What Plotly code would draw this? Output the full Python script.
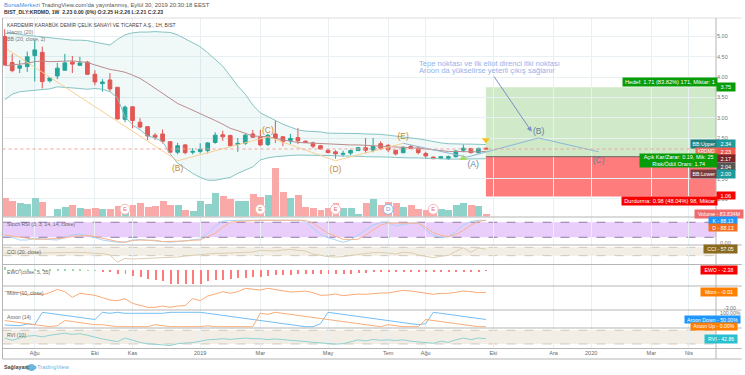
import plotly.graph_objects as go

W, H = 745, 375
FONT = "Liberation Sans"

opens = [5.00,4.36,4.22,4.26,4.53,4.61,3.91,4.03,4.17,4.37,4.29,4.37,4.07,3.84,3.93,3.75,2.96,3.27,2.89,2.78,2.57,2.60,2.41,2.15,2.33,2.15,2.17,2.19,2.39,2.58,2.56,2.34,2.37,
         2.60,2.52,2.34,2.60,2.53,2.44,2.51,2.42,2.38,2.31,2.20,2.16,2.10,2.13,2.19,2.26,2.20,2.36,2.32,2.20,2.14,2.29,2.25,2.12,2.03,2.00,2.00,2.04,2.20,2.24,2.14,2.25]
highs = [5.18,4.57,4.42,4.63,4.91,4.75,3.99,4.35,4.57,4.52,4.50,4.40,4.17,3.95,4.10,3.75,3.30,3.27,2.99,2.78,2.62,2.71,2.41,2.38,2.35,2.25,2.37,2.40,2.64,2.68,2.58,2.50,2.60,
         2.70,2.70,2.60,2.94,2.55,2.60,2.75,2.44,2.41,2.33,2.22,2.20,2.19,2.22,2.28,2.50,2.50,2.42,2.35,2.20,2.30,2.33,2.30,2.16,2.04,2.05,2.07,2.20,2.34,2.26,2.27,2.26]
lows = [4.30,4.12,4.10,4.13,3.89,3.72,3.87,3.95,4.16,4.10,4.28,4.05,3.80,3.64,3.64,2.96,2.89,2.74,2.74,2.45,2.45,2.37,2.13,2.10,2.10,2.10,2.12,2.12,2.36,2.43,2.28,2.16,2.33,
        2.50,2.30,2.30,2.38,2.30,2.35,2.35,2.38,2.25,2.22,2.13,1.99,2.04,2.08,2.18,2.13,2.15,2.20,2.15,2.07,2.12,2.23,2.10,1.99,1.98,1.98,1.96,2.02,2.15,2.12,2.12,2.21]
closes = [4.30,4.16,4.28,4.50,4.67,3.89,3.98,4.22,4.35,4.32,4.35,4.07,3.88,3.88,3.71,2.97,3.26,2.93,2.77,2.55,2.52,2.42,2.15,2.31,2.14,2.17,2.22,2.38,2.57,2.53,2.31,2.37,2.57,
          2.52,2.33,2.57,2.49,2.41,2.49,2.43,2.39,2.30,2.23,2.14,2.11,2.12,2.19,2.26,2.20,2.29,2.25,2.21,2.11,2.27,2.24,2.14,2.06,1.99,2.04,2.04,2.18,2.25,2.14,2.24,2.23]
bb_upper = [5.08,5.08,5.05,5.03,5.01,4.98,4.96,4.95,4.93,4.91,4.91,4.90,4.86,4.82,4.79,4.93,5.04,5.09,5.11,5.11,5.12,5.11,5.10,5.04,4.94,4.86,4.75,4.60,4.44,4.27,4.03,3.78,3.58,
            3.31,3.12,3.02,2.94,2.84,2.77,2.70,2.67,2.66,2.65,2.62,2.62,2.62,2.61,2.61,2.60,2.60,2.59,2.57,2.55,2.52,2.50,2.48,2.45,2.41,2.38,2.36,2.35,2.35,2.35,2.35,2.34]
bb_lower = [3.44,3.58,3.64,3.66,3.68,3.70,3.71,3.76,3.75,3.74,3.72,3.70,3.72,3.70,3.64,3.49,3.02,2.82,2.70,2.55,2.50,2.41,2.11,1.88,1.75,1.63,1.53,1.46,1.46,1.49,1.53,1.63,1.71,
            1.79,1.96,2.01,2.04,2.06,2.07,2.08,2.08,2.08,2.08,2.07,2.06,2.06,2.06,2.05,2.04,2.04,2.03,2.03,2.02,2.01,2.01,2.01,2.00,2.00,1.98,1.98,1.98,1.98,1.98,1.98,1.99]
bb_basis = [4.28,4.30,4.32,4.34,4.38,4.40,4.38,4.39,4.40,4.40,4.38,4.36,4.30,4.24,4.19,4.16,4.12,4.05,3.97,3.85,3.72,3.60,3.48,3.35,3.27,3.19,3.11,3.02,2.93,2.84,2.74,2.68,2.62,
            2.55,2.54,2.53,2.49,2.45,2.42,2.39,2.38,2.37,2.37,2.35,2.34,2.34,2.33,2.33,2.32,2.32,2.31,2.30,2.29,2.27,2.26,2.25,2.23,2.21,2.18,2.17,2.17,2.16,2.16,2.16,2.17]
volume_m = [589,496,425,394,567,456,9,226,310,350,279,239,257,226,226,319,217,363,412,288,341,496,363,372,208,186,474,394,735,651,549,496,496,
            704,598,673,1519,766,589,660,301,257,208,257,434,279,279,71,412,549,350,456,425,301,363,239,208,310,226,195,350,425,372,341,83.8]
stoch_k = [25,20,9,9,16,15,11,9,20,29,33,27,19,9,3,0,1,9,11,9,7,3,0,3,7,9,13,36,65,85,88,88,88,88,88,88,88,88,88,88,83,56,32,19,9,0,9,29,49,69,79,80,65,72,76,79,49,28,20,21,43,69,83,88,88]
stoch_d = [29,25,19,15,12,12,13,13,17,24,27,27,23,16,9,3,0,7,9,9,8,3,3,4,5,8,9,23,36,60,80,83,85,88,88,88,88,88,88,88,88,76,56,36,25,12,11,12,29,49,69,77,76,76,76,76,59,39,28,23,31,47,69,83,88]
cci = [-44,-44,-44,-44,-44,-36,-36,-28,-28,-20,-20,-28,-44,-52,-84,-260,-164,-180,-172,-164,-164,-156,-148,-132,-108,-92,-68,-60,-44,-44,-36,-28,-12,
       -12,28,20,12,36,52,28,12,-60,-92,-124,-132,-124,-92,-68,-52,-28,-20,-44,-60,-20,-28,-84,-124,-148,-116,-92,4,92,-20,84,57]
ewo = [14,4,3,3,3,3,2,3,3,3,2,1,1,-4,-4,-14,-14,-22,-29,-36,-42,-45,-56,-55,-57,-57,-55,-45,-42,-39,-36,-32,-31,
       -28,-28,-24,-21,-21,-18,-17,-17,-17,-17,-17,-17,-15,-14,-13,-11,-8,-7,-6,-6,-6,-6,-6,-7,-8,-8,-8,-7,-6,-4,-3,-2.38]
mom = [.08,.08,-.04,-.32,-.2,-.32,-.04,.36,.08,-.6,-.12,-.24,-.36,-.64,-.92,-1.0,-.76,-1.32,-1.56,-1.8,-1.8,-1.64,-1.8,-1.64,-1.6,-.76,-1.0,-.44,-.2,.08,-.12,.08,.48,
       .36,.28,.48,.36,.16,.04,.08,.16,-.04,-.36,-.32,-.2,-.4,-.32,-.2,-.24,-.12,-.08,-.08,.04,.24,.16,.04,-.04,-.24,-.12,-.12,0,.16,.08,-.04,-.01]
aroon_down = [12,7,7,19,14,100,93,86,79,71,64,57,50,100,93,100,93,93,93,93,93,93,100,100,100,100,100,93,86,79,71,64,57,50,43,36,29,21,14,7,0,0,21,100,93,86,79,71,64,57,50,43,36,29,21,14,21,100,93,86,79,71,64,57,50]
aroon_up = [43,36,29,21,14,7,0,7,43,36,29,21,14,14,7,0,0,0,0,0,14,7,0,0,0,0,0,7,0,0,0,0,0,0,93,86,100,93,86,79,71,64,57,50,43,36,29,21,14,7,0,14,7,0,0,0,50,43,36,29,21,14,7,0,0]
rvi = [46,36,46,54,57,51,58,64,67,62,65,58,49,42,36,30,46,35,27,21,17,16,13,21,24,26,32,38,40,43,40,43,46,
       43,43,39,42,39,36,36,32,29,26,23,19,21,30,38,33,40,36,38,35,38,32,29,26,23,32,27,38,46,39,46,43]

wave1_x = [0.3, 23, 35, 44, 53]
wave1_y = [4.69, 1.94, 2.53, 1.94, 2.37]
wave1_labels = ["(B)", "(C)", "(D)", "(E)"]
wave1_label_y = [1.75, 2.68, 1.72, 2.53]
wave2_x = [53, 61.5, 71, 79]
wave2_y = [2.37, 2.03, 2.50, 2.16]
wave2_labels = ["(A)", "(B)", "(C)"]
wave2_label_x = [62.3, 71, 79]
wave2_label_y = [1.84, 2.64, 1.94]
earn_x = [16, 34, 44, 51, 57]
earn_vol = [223, 223, 223, 223, 223]
earn_t = ["E", "E", "E", "D", "E"]
earn_col = ["#f7b5b5", "#f7b5b5", "#f7b5b5", "#7db8f0", "#f7b5b5"]
earn_txt = ["#e57373", "#e57373", "#e57373", "#5a9fe0", "#e57373"]
entry, target, stop = 2.04, 3.75, 1.06
tick_idx = [4, 12, 17, 26, 34, 43, 51, 56, 65, 73, 78, 86, 91]
tick_lab = ["Ağu", "Eki", "Kas", "2019", "Mar", "May", "Tem", "Ağu", "Eki", "Ara", "2020", "Mar", "Nis"]
price_ticks = [1.0, 1.5, 2.5, 3.0, 3.5, 4.0, 4.5, 5.0]

idx = list(range(len(closes)))
RED, GREEN = "#ef5350", "#26a69a"
vol_col = ["#f9a9a7" if c < o else "#8fd2ca" for o, c in zip(opens, closes)]


def dom(top, bot):
    return [1 - bot / H, 1 - top / H]


fig = go.Figure()
fig.add_trace(go.Bar(x=idx, y=volume_m, marker=dict(color=vol_col, line_width=0), width=0.92, yaxis="y2"))
fig.add_trace(go.Scatter(x=earn_x, y=earn_vol, mode="markers+text", text=earn_t, textposition="middle center", yaxis="y2",
                         marker=dict(size=10, color="white", line=dict(color=earn_col, width=1)),
                         textfont=dict(color=earn_txt, size=6, family=FONT)))
fig.add_trace(go.Scatter(x=idx, y=bb_upper, mode="lines", line=dict(color="#86c3c3", width=1)))
fig.add_trace(go.Scatter(x=idx, y=bb_lower, mode="lines", line=dict(color="#86c3c3", width=1), fill="tonexty", fillcolor="rgba(38,150,150,0.07)"))
fig.add_trace(go.Scatter(x=idx, y=bb_basis, mode="lines", line=dict(color="#bb8b8d", width=1)))
fig.add_trace(go.Scatter(x=wave1_x, y=wave1_y, mode="lines", line=dict(color="#f8cf95", width=1)))
fig.add_trace(go.Scatter(x=wave2_x, y=wave2_y, mode="lines", line=dict(color="#8db7d6", width=1)))
fig.add_trace(go.Candlestick(x=idx, open=opens, high=highs, low=lows, close=closes, whiskerwidth=0,
                             increasing=dict(line=dict(color=GREEN, width=1), fillcolor=GREEN),
                             decreasing=dict(line=dict(color=RED, width=1), fillcolor=RED)))
fig.add_trace(go.Scatter(x=wave1_x[1:], y=wave1_label_y, mode="text", text=wave1_labels,
                         textfont=dict(color="#c98a2e", size=8.5, family=FONT)))
fig.add_trace(go.Scatter(x=wave2_label_x, y=wave2_label_y, mode="text", text=wave2_labels,
                         textfont=dict(color="#5f7f9c", size=8.5, family=FONT)))
fig.add_trace(go.Scatter(x=[64], y=[2.45], mode="markers", marker=dict(symbol="triangle-down", size=7, color="#f6c21c")))
fig.add_trace(go.Scatter(x=[61], y=[2.0], mode="markers", marker=dict(symbol="triangle-up", size=7, color="#a9d86a")))
fig.add_trace(go.Scatter(x=idx, y=stoch_k, mode="lines", yaxis="y3", line=dict(color="#a8d4f5", width=1)))
fig.add_trace(go.Scatter(x=idx, y=stoch_d, mode="lines", yaxis="y3", line=dict(color="#f7b48a", width=1)))
fig.add_trace(go.Scatter(x=idx, y=cci, mode="lines", yaxis="y4", line=dict(color="#dccdb2", width=1)))
fig.add_trace(go.Bar(x=idx, y=ewo, yaxis="y5", width=0.13, marker=dict(color=["#ff7b7b" if v < 0 else "#9fd8ab" for v in ewo], line_width=0)))
fig.add_trace(go.Scatter(x=idx, y=mom, mode="lines", yaxis="y6", line=dict(color="#f9a974", width=1)))
fig.add_trace(go.Scatter(x=idx, y=aroon_down, mode="lines", yaxis="y7", line=dict(color="#74bdf2", width=1)))
fig.add_trace(go.Scatter(x=idx, y=aroon_up, mode="lines", yaxis="y7", line=dict(color="#f9ad78", width=1)))
fig.add_trace(go.Scatter(x=idx, y=rvi, mode="lines", yaxis="y8", line=dict(color="#8ed2d2", width=1)))

shapes = []
# risk / reward boxes
shapes.append(dict(type="rect", xref="x", yref="y", x0=64, x1=94.6, y0=entry, y1=target, fillcolor="#cfe9c9", line_width=0, layer="below"))
shapes.append(dict(type="rect", xref="x", yref="y", x0=64, x1=94.6, y0=stop, y1=entry, fillcolor="#ff7c7c", line_width=0, layer="below"))
shapes.append(dict(type="line", xref="x", yref="y", x0=64, x1=94.6, y0=entry, y1=entry, line=dict(color="#666666", width=1)))
shapes.append(dict(type="line", xref="x", yref="y", x0=-0.29, x1=94.6, y0=closes[-1], y1=closes[-1], line=dict(color="#f2a29a", width=1, dash="dot")))
# indicator bands
for ref, lo, hi, col, dashcol in [("y3", 20, 80, "#e9cdfb", "#9278a8"), ("y4", -100, 100, "#f3eee5", "#cfc8ba"), ("y8", 20, 80, "#f3eee5", "#cfc8ba")]:
    shapes.append(dict(type="rect", xref="x", yref=ref, x0=-0.29, x1=94.6, y0=lo, y1=hi, fillcolor=col, line_width=0, layer="below"))
    for v in (lo, hi):
        shapes.append(dict(type="line", xref="x", yref=ref, x0=-0.29, x1=94.6, y0=v, y1=v, line=dict(color=dashcol, width=1, dash="dash"), layer="below"))
# frame
for yp in [217, 245, 264.5, 286, 310, 328, 348.5, 359]:
    shapes.append(dict(type="line", xref="paper", yref="paper", x0=2.5 / W, x1=741.7 / W, y0=1 - yp / H, y1=1 - yp / H, line=dict(color="#b5b5b5", width=1)))
shapes.append(dict(type="line", xref="paper", yref="paper", x0=2.5 / W, x1=741.7 / W, y0=1 - 18 / H, y1=1 - 18 / H, line=dict(color="#dddddd", width=1)))
for xp in [2.5, 716]:
    shapes.append(dict(type="line", xref="paper", yref="paper", x0=xp / W, x1=xp / W, y0=1 - 359 / H, y1=1 - 18 / H, line=dict(color="#b5b5b5", width=1)))
# small logo
for cx, r in [(28.5, 2.5), (31.5, 3.5), (34.5, 2)]:
    shapes.append(dict(type="circle", xref="paper", yref="paper", x0=(cx - r) / W, x1=(cx + r) / W, y0=1 - (367.5 + r) / H, y1=1 - (367.5 - r) / H, fillcolor="#6db5e0", line_width=0))

ann = []


def txt(s, x, y, color="#555555", size=5.1, bold=False, anchor="left"):
    ann.append(dict(text=f"<b>{s}</b>" if bold else s, xref="paper", yref="paper", x=x / W, y=1 - y / H, xanchor=anchor, yanchor="middle",
                    showarrow=False, font=dict(color=color, size=size, family=FONT), borderpad=0))


def lab(s, x0, x1, y, bg, fg="white", h=8, size=5.2, align="center"):
    ann.append(dict(text=s, xref="paper", yref="paper", x=x0 / W, y=1 - y / H, xanchor="left", yanchor="middle", showarrow=False,
                    width=x1 - x0, height=h, bgcolor=bg, align=align, borderpad=0, font=dict(color=fg, size=size, family=FONT)))


txt('<span style="color:#4a90e2">BorsaMerkezi</span> TradingView.com\'da yayınlanmış, Eylül 30, 2019 20:30:18 EEST', 3, 5, size=5.9)
txt("BIST_DLY:KRDMD, 1W  2.23 0.00 (0%) O:2.25 H:2.26 L:2.21 C:2.23", 3, 12, color="#333333", size=5.15, bold=True)
txt("KARDEMİR KARABÜK DEMİR ÇELİK SANAYİ VE TİCARET A.Ş., 1H, BIST", 6, 25, color="#444444", size=5.0)
txt("Hacim (20)", 6, 32, color="#777777", size=5.4)
txt("BB (20, close, 2)", 6, 39, color="#777777", size=5.2)
txt("Stoch RSI (3, 3, 14, 14, close)", 6, 224, color="#666666")
txt("CCI (20, close)", 6, 252.3, color="#666666")
txt("EWO (close, 5, 35)", 6, 272, color="#666666")
txt("Mom (10, close)", 6, 292.7, color="#666666")
txt("Aroon (14)", 6, 317, color="#666666")
txt("RVI (10)", 6, 335, color="#666666")
txt("Sağlayan:", 3, 367, color="#444444", size=5.4, bold=True)
txt("TradingView", 36, 367, color="#6db5e0", size=5.8)
txt("Tepe noktası ve ilk eliot direnci itki noktası", 418, 64, color="#8fb4ea", size=7.6)
txt("Aroon da yükselirse yeterli çıkış sağlanır", 418, 70.7, color="#8fb4ea", size=7.6)
txt("0.00", 719, 242.7, color="#777777", size=5.5)
txt("-3.00", 723, 307.5, color="#777777", size=5.2)
txt("100.00%", 719, 313, color="#777777", size=5.2)

ann.append(dict(xref="paper", yref="paper", x=531.7 / W, y=1 - 131.7 / H, ax=-38.7, ay=-56.7, text="",
                showarrow=True, arrowhead=2, arrowsize=1, arrowwidth=1, arrowcolor="#7b8fc4"))

lab("Hedef: 1.71 (83.82%) 171, Miktar: 1", 622, 716, 82, "#089c08", size=5.7)
lab("3.75", 716, 733.5, 86.7, "#089c08", size=5.5)
lab("BB:Upper", 690, 716, 144.3, "#1d7f80")
lab("2.34", 716, 733.5, 144.3, "#1f9a9c", size=5.5)
lab("KRDMD", 695, 716, 151, "#e8705f", h=6.5, size=4.6)
lab("2.23", 716, 733.5, 151.7, "#f05a50", h=7, size=5.5)
lab("2.17", 716, 733.5, 159, "#7c2428", h=7, size=5.5)
lab("2.04", 716, 733.5, 166.7, "#555555", h=7, size=5.5)
lab("BB:Lower", 690, 716, 174, "#7b3c3e")
lab("2.00", 716, 733.5, 174, "#1f9a9c", size=5.5)
lab("Açık Kar/Zarar: 0.19, Mik: 25<br>Risk/Ödül Oranı: 1.74", 638.7, 716, 160.3, "#089c08", h=13, size=5.5)
lab("Durdurma: 0.98 (48.04%) 98, Miktar", 620.7, 716, 200.7, "#f60000", size=5.7)
lab("1.06", 716, 733.5, 195.5, "#f60000", h=7, size=5.5)
lab("Volume - 83.834M", 694, 742, 214, "#ee6c6c")
lab("K - 88.13", 708, 736, 220, "#1e96fc", h=7)
lab("D - 88.13", 708, 736, 227.7, "#f4701c", h=7)
lab("CCI - 57.05", 703, 736, 248.7, "#8a6a1e")
lab("EWO - -2.38", 700, 736, 270, "#f60000")
lab("Mom - -0.01", 700, 736, 292, "#ff8000")
lab("Aroon Down - 50.00%", 683.7, 739, 319.3, "#1e96fc", h=7)
lab("Aroon Up - 0.00%", 690, 736, 326.3, "#ff8000", h=6.5)
lab("RVI - 42.86", 703.7, 736, 339, "#2bc0cf")

grid = "#e9f0f4"
def pane(top, bot, rng):
    return dict(domain=dom(top, bot), range=rng, side="right", anchor="x", showticklabels=False, showgrid=False, zeroline=False, showline=False, ticks="")

fig.update_layout(
    width=W, height=H, autosize=False, margin=dict(l=0, r=0, t=0, b=0), paper_bgcolor="white", plot_bgcolor="white",
    showlegend=False, barmode="overlay", bargap=0,
    font=dict(family=FONT, size=5.5, color="#666666"),
    xaxis=dict(domain=[2.5 / W, 716 / W], range=[-0.29, 94.6], anchor="y8", tickvals=tick_idx, ticktext=tick_lab, showgrid=True, gridcolor=grid, gridwidth=1,
               zeroline=False, showline=False, ticks="", rangeslider=dict(visible=False), tickfont=dict(size=5.5, color="#666666")),
    yaxis=dict(domain=dom(18, 216.5), range=[0.567, 5.456], side="right", anchor="x", tickvals=price_ticks, tickformat=".2f",
               gridcolor=grid, zeroline=False, showline=False, ticks="", tickfont=dict(size=5.5, color="#777777")),
    yaxis2=dict(overlaying="y", range=[0, 6154], side="right", visible=False, anchor="x"),
    yaxis3=pane(217, 245, [-10.8, 101]),
    yaxis4=pane(245, 264, [-300, 156]),
    yaxis5=pane(264.7, 285.5, [-64, 22]),
    yaxis6=pane(286, 310, [-2.12, 0.76]),
    yaxis7=pane(310, 328, [-9, 116]),
    yaxis8=pane(328, 348.5, [0, 90]),
    shapes=shapes, annotations=ann,
)
fig.write_html("out.html", config=dict(displayModeBar=False), post_script="document.body.style.margin='0';document.body.style.overflow='hidden';")
